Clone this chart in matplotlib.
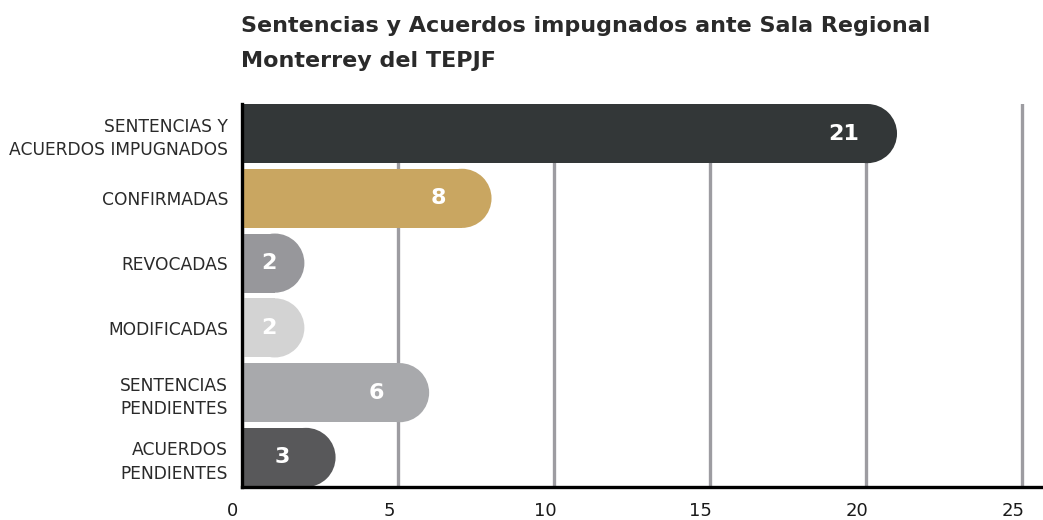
import matplotlib
matplotlib.use("Agg")
import matplotlib.pyplot as plt
import matplotlib.transforms as mtransforms
from matplotlib.patches import Ellipse

# === Data ===
categories = [
    "SENTENCIAS Y\nACUERDOS IMPUGNADOS",
    "CONFIRMADAS",
    "REVOCADAS",
    "MODIFICADAS",
    "SENTENCIAS\nPENDIENTES",
    "ACUERDOS\nPENDIENTES",
]
values = [21, 8, 2, 2, 6, 3]
colors = ["#333738", "#c9a661", "#97979b", "#d3d3d3", "#a8a9ac", "#58585a"]
x_ticks = [0, 5, 10, 15, 20, 25]

title_lines = ["Sentencias y Acuerdos impugnados ante Sala Regional",
               "Monterrey del TEPJF"]

plt.rcParams["font.family"] = ["DejaVu Sans"]

W, H, DPI = 1043, 520, 100
fig = plt.figure(figsize=(W / DPI, H / DPI), dpi=DPI)
ax = fig.add_axes([242 / W, 1 - 487 / H, 1 - 242 / W, (487 - 104) / H])

xmax = 25.68
bar_h = 0.913
ax.set_xlim(0, xmax)
ax.set_ylim(len(values) - 1 + bar_h / 2, -bar_h / 2)

# pixel -> data scale for round caps
ax_w_px = ax.get_position().width * W
ax_h_px = ax.get_position().height * H
px_per_x = ax_w_px / xmax
px_per_y = ax_h_px / (len(values) - 1 + bar_h)
rx = (bar_h * px_per_y / 2) / px_per_x

for i, (v, c) in enumerate(zip(values, colors)):
    ax.barh(i, v - rx, height=bar_h, color=c, zorder=3, linewidth=0)
    ax.add_patch(Ellipse((v - rx, i), 2 * rx, bar_h, color=c, zorder=3, linewidth=0))
    lx = max(v - 1.7, 0.85)
    ax.text(lx, i, str(v), color="white", fontsize=16, fontweight="bold",
            ha="center", va="center", zorder=4)

# === Axes styling ===
ax.set_yticks(range(len(categories)))
ax.set_yticklabels(categories, fontsize=12.3, color="#2a2a2a", linespacing=1.4)
ax.set_xticks(x_ticks)
ax.set_xticklabels([str(t) for t in x_ticks], fontsize=13, color="#1a1a1a")
ax.tick_params(axis="both", length=0)
ax.tick_params(axis="y", pad=10)
ax.tick_params(axis="x", pad=10.5)
offset = mtransforms.ScaledTranslation(-9 / DPI, 0, fig.dpi_scale_trans)
for lab in ax.get_xticklabels():
    lab.set_transform(lab.get_transform() + offset)

ax.grid(axis="x", color="#9d9ca1", linewidth=2.4, zorder=0)
ax.set_axisbelow(True)
for s in ["top", "right"]:
    ax.spines[s].set_visible(False)
for s in ["left", "bottom"]:
    ax.spines[s].set_color("black")
    ax.spines[s].set_linewidth(2.4)
    ax.spines[s].set_zorder(5)

for line, base in zip(title_lines, [32, 67]):
    fig.text(241 / W, 1 - base / H, line, fontsize=16, fontweight="bold",
             color="#2a2a2a", ha="left", va="baseline")

fig.savefig("out.png", dpi=DPI)
